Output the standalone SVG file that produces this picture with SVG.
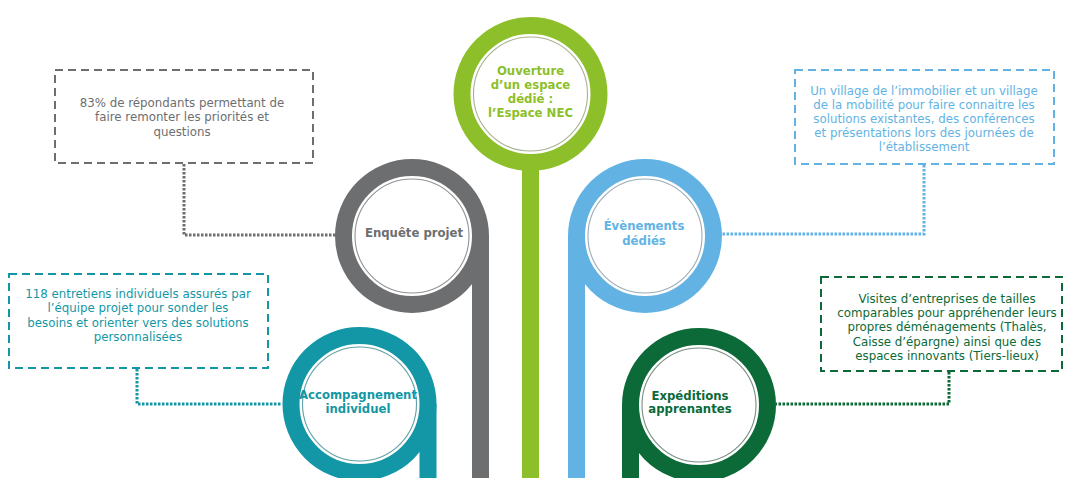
<svg xmlns="http://www.w3.org/2000/svg" width="1070" height="478" viewBox="0 0 1070 478">
<style>
.ring{fill:#fff;stroke-width:17}
.thin{fill:none;stroke-width:1.1;opacity:.75}
.lbl{font-family:"DejaVu Sans",Verdana,sans-serif;font-size:11.7px;font-weight:bold;text-anchor:middle}
.txt{font-family:"DejaVu Sans",Verdana,sans-serif;font-size:11.8px;text-anchor:middle}
.box{fill:#fff;stroke-width:2;stroke-dasharray:8 5}
.con{fill:none;stroke-width:3;stroke-dasharray:2.5 1.5}
</style>
<rect width="1070" height="478" fill="#fff"/>

<g id="connectors">
<path class="con" stroke="#6d6e70" d="M184 164 V235 H336"/>
<path class="con" stroke="#62b3e4" d="M924 165 V234 H721"/>
<path class="con" stroke="#1397a6" d="M137 369 V404 H282"/>
<path class="con" stroke="#0b6a37" d="M949 372 V404 H776"/>
</g>

<g id="box-enquete">
<rect class="box" stroke="#6d6e70" x="55" y="70" width="258" height="93"/>
<text class="txt" fill="#6d6e70" x="182" y="107">83% de répondants permettant de</text>
<text class="txt" fill="#6d6e70" x="182" y="121">faire remonter les priorités et</text>
<text class="txt" fill="#6d6e70" x="182" y="135.5">questions</text>
</g>

<g id="box-evenements">
<rect class="box" stroke="#62b3e4" x="795" y="70" width="259" height="94"/>
<text class="txt" fill="#62b3e4" x="924" y="95">Un village de l’immobilier et un village</text>
<text class="txt" fill="#62b3e4" x="924" y="109">de la mobilité pour faire connaitre les</text>
<text class="txt" fill="#62b3e4" x="924" y="123">solutions existantes, des conférences</text>
<text class="txt" fill="#62b3e4" x="924" y="137">et présentations lors des journées de</text>
<text class="txt" fill="#62b3e4" x="924" y="151">l’établissement</text>
</g>

<g id="box-accompagnement">
<rect class="box" stroke="#1397a6" x="9" y="274" width="259" height="94"/>
<text class="txt" fill="#1397a6" x="138" y="298">118 entretiens individuels assurés par</text>
<text class="txt" fill="#1397a6" x="138" y="312">l’équipe projet pour sonder les</text>
<text class="txt" fill="#1397a6" x="138" y="326.5">besoins et orienter vers des solutions</text>
<text class="txt" fill="#1397a6" x="138" y="341">personnalisées</text>
</g>

<g id="box-expeditions">
<rect class="box" stroke="#0b6a37" x="821" y="277" width="241" height="94"/>
<text class="txt" fill="#0b6a37" x="947" y="303">Visites d’entreprises de tailles</text>
<text class="txt" fill="#0b6a37" x="947" y="317">comparables pour appréhender leurs</text>
<text class="txt" fill="#0b6a37" x="947" y="331">propres déménagements (Thalès,</text>
<text class="txt" fill="#0b6a37" x="947" y="346">Caisse d’épargne) ainsi que des</text>
<text class="txt" fill="#0b6a37" x="947" y="360">espaces innovants (Tiers-lieux)</text>
</g>

<g id="node-nec">
<rect x="522" y="150" width="17" height="328" fill="#8dbf2a"/>
<circle class="ring" stroke="#8dbf2a" cx="530.5" cy="94" r="68.5"/>
<circle class="thin" stroke="#8a9a6a" cx="530.5" cy="94" r="57"/>
<text class="lbl" fill="#8dbf2a" x="530.5" y="75">Ouverture</text>
<text class="lbl" fill="#8dbf2a" x="530.5" y="89">d’un espace</text>
<text class="lbl" fill="#8dbf2a" x="530.5" y="103">dédié :</text>
<text class="lbl" fill="#8dbf2a" x="530.5" y="117">l’Espace NEC</text>
</g>

<g id="node-enquete">
<rect x="472" y="236" width="17" height="242" fill="#6d6e70"/>
<circle class="ring" stroke="#6d6e70" cx="412" cy="236" r="68.5"/>
<circle class="thin" stroke="#6d6e70" cx="412" cy="236" r="57"/>
<text class="lbl" fill="#6d6e70" x="414" y="237">Enquête projet</text>
</g>

<g id="node-evenements">
<rect x="568" y="236" width="17" height="242" fill="#62b3e4"/>
<circle class="ring" stroke="#62b3e4" cx="645" cy="236" r="68.5"/>
<circle class="thin" stroke="#7a90a0" cx="645" cy="236" r="57"/>
<text class="lbl" fill="#62b3e4" x="644" y="230">Évènements</text>
<text class="lbl" fill="#62b3e4" x="644" y="245">dédiés</text>
</g>

<g id="node-accompagnement">
<rect x="419.5" y="404" width="17" height="74" fill="#1397a6"/>
<circle class="ring" stroke="#1397a6" cx="359.5" cy="404" r="68.5"/>
<circle class="thin" stroke="#2a7f88" cx="359.5" cy="404" r="57"/>
<text class="lbl" fill="#1397a6" x="358" y="399">Accompagnement</text>
<text class="lbl" fill="#1397a6" x="358" y="413">individuel</text>
</g>

<g id="node-expeditions">
<rect x="622" y="405" width="17" height="73" fill="#0b6a37"/>
<circle class="ring" stroke="#0b6a37" cx="699" cy="405" r="68.5"/>
<circle class="thin" stroke="#4a6a55" cx="699" cy="405" r="57"/>
<text class="lbl" fill="#0b6a37" x="690" y="400">Expéditions</text>
<text class="lbl" fill="#0b6a37" x="690" y="413">apprenantes</text>
</g>
</svg>
